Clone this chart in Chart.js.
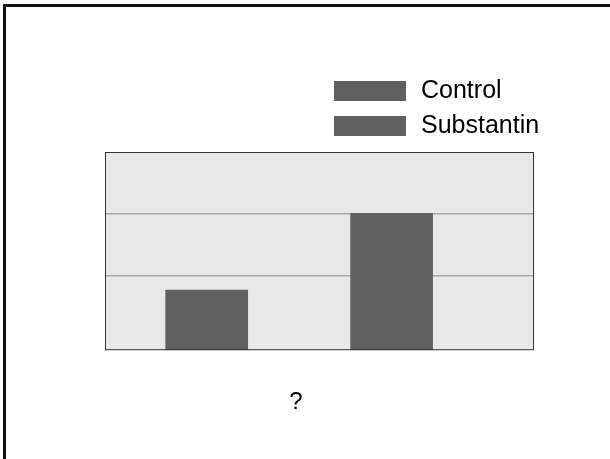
<!DOCTYPE html>
<html><head><meta charset="utf-8">
<script src="https://cdn.jsdelivr.net/npm/chart.js@4.4.1/dist/chart.umd.min.js"></script>
<style>
html,body{margin:0;padding:0;background:#fff;}
#wrap{position:relative;width:610px;height:459px;overflow:hidden;background:#fff;}
#c{position:absolute;left:0;top:0;}
#frame{position:absolute;left:3px;top:4px;width:607px;height:455px;border-top:3px solid #111;border-left:3px solid #111;box-sizing:border-box;pointer-events:none;}
</style></head><body>
<div id="wrap"><canvas id="c" width="592" height="459"></canvas><div id="frame"></div></div>
<script>
// ---- data ----
const categories = ['Control', 'Substantin'];
const categoryPositions = [1, 2];
const values = [0.97, 2.21];
const gridTicks = [1.2, 2.2];
const xAxisTitle = '?';

// ---- styles ----
const FONT = '"Liberation Sans", Arial, Helvetica, sans-serif';
const BAR_COLOR = '#606060';

const plotFrame = {
  id: 'plotFrame',
  beforeDraw(chart) {
    const {ctx, chartArea: a} = chart;
    ctx.save();
    ctx.fillStyle = '#e8e8e8';
    ctx.fillRect(a.left, a.top, a.right - a.left, a.bottom - a.top);
    ctx.restore();
  },
  afterDraw(chart) {
    const {ctx, chartArea: a} = chart;
    ctx.save();
    ctx.strokeStyle = '#333333';
    ctx.lineWidth = 1;
    ctx.strokeRect(a.left + 0.5, a.top + 0.5, a.right - a.left - 1, a.bottom - a.top - 1);
    ctx.restore();
  }
};

const stackedLegend = {
  id: 'stackedLegend',
  afterDraw(chart) {
    const ctx = chart.ctx;
    ctx.save();
    ctx.font = '25px ' + FONT;
    ctx.textBaseline = 'middle';
    ctx.textAlign = 'left';
    chart.data.datasets.forEach((ds, i) => {
      const y = 81 + i * 35;
      ctx.fillStyle = ds.backgroundColor;
      ctx.fillRect(334, y, 72, 20);
      ctx.fillStyle = '#000';
      ctx.fillText(ds.label, 421, y + 10.5);
    });
    ctx.restore();
  }
};

new Chart(document.getElementById('c'), {
  type: 'bar',
  data: {
    datasets: categories.map((c, i) => ({
      label: c,
      data: [{x: categoryPositions[i], y: values[i]}],
      backgroundColor: BAR_COLOR,
      borderWidth: 0,
      grouped: false,
      barThickness: 82
    }))
  },
  options: {
    responsive: false,
    animation: false,
    devicePixelRatio: 1,
    layout: {padding: {left: 0, right: 0, top: 152, bottom: 42}},
    scales: {
      x: {type: 'linear', min: 0.45, max: 2.77, offset: false, display: false},
      y: {
        min: 0, max: 3.2,
        ticks: {display: false},
        border: {display: false},
        grid: {color: '#a8a8a8', lineWidth: 1.5, drawTicks: false},
        afterBuildTicks: s => { s.ticks = gridTicks.map(v => ({value: v})); },
        afterFit: s => { s.width = 105; }
      },
      y2: {
        type: 'linear', position: 'right', min: 0, max: 3.2,
        ticks: {display: false},
        border: {display: false},
        grid: {display: false, drawTicks: false},
        afterFit: s => { s.width = 58; }
      }
    },
    plugins: {
      legend: {display: false},
      tooltip: {enabled: false},
      title: {
        display: true, text: xAxisTitle, position: 'bottom',
        color: '#000',
        font: {family: FONT, size: 24, weight: 'normal'},
        padding: {top: 38, bottom: 0}
      }
    }
  },
  plugins: [plotFrame, stackedLegend]
});
</script>
</body></html>
